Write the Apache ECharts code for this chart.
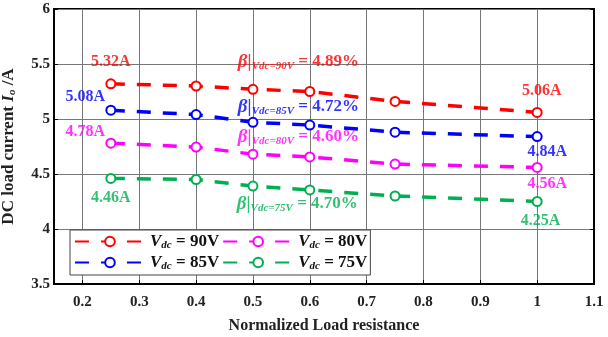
<!DOCTYPE html>
<html><head><meta charset="utf-8">
<script src="https://cdn.jsdelivr.net/npm/echarts@6/dist/echarts.min.js"></script>
<style>html,body{margin:0;padding:0;background:#fff}#c{width:608px;height:337px}</style>
</head><body><div id="c"></div>
<script>
var xValues = [0.25, 0.4, 0.5, 0.6, 0.75, 1.0];
var vdc90 = [5.32, 5.30, 5.27, 5.25, 5.16, 5.06];
var vdc85 = [5.08, 5.04, 4.97, 4.945, 4.88, 4.84];
var vdc80 = [4.78, 4.745, 4.68, 4.655, 4.59, 4.56];
var vdc75 = [4.46, 4.45, 4.39, 4.355, 4.30, 4.25];
var xTicks = [0.2, 0.3, 0.4, 0.5, 0.6, 0.7, 0.8, 0.9, 1, 1.1];
var seriesNames = ['90V', '85V', '80V', '75V'];
var legendOrder = ['90V', '80V', '85V', '75V'];
var colors = ['#ff0000', '#0000ff', '#ff00ff', '#00b050'];
var betaTexts = ['4.89%', '4.72%', '4.60%', '4.70%'];
var betaPos = [[0.58, 5.52], [0.58, 5.11], [0.58, 4.84], [0.578, 4.23]];
var valueLabels = [
  [[0.25, 5.52, '5.32A'], [1.008, 5.26, '5.06A']],
  [[0.205, 5.20, '5.08A'], [1.018, 4.70, '4.84A']],
  [[0.205, 4.88, '4.78A'], [1.018, 4.41, '4.56A']],
  [[0.25, 4.28, '4.46A'], [1.006, 4.07, '4.25A']]
];
var allData = [vdc90, vdc85, vdc80, vdc75];
var FONT = 'Liberation Serif';

var series = [];
allData.forEach(function (vals, k) {
  var c = colors[k];
  series.push({
    name: seriesNames[k],
    type: 'line',
    data: xValues.map(function (x, i) { return [x, vals[i]]; }),
    symbol: 'emptyCircle',
    symbolSize: 9,
    showAllSymbol: true,
    lineStyle: { color: c, width: 3.5, type: [14, 12] },
    itemStyle: { color: c, borderColor: c, borderWidth: 4 },
    z: 3
  });
  var pts = valueLabels[k].map(function (v) {
    return { value: [v[0], v[1]], label: { formatter: v[2] } };
  });
  pts.push({
    value: betaPos[k],
    label: {
      formatter: '{b|β|}{s|Vdc=' + seriesNames[k] + '}{n| = ' + betaTexts[k] + '}',
      rich: {
        b: { fontFamily: FONT, fontStyle: 'italic', fontWeight: 'bold', fontSize: 19, color: c },
        s: { fontFamily: FONT, fontStyle: 'italic', fontWeight: 'bold', fontSize: 11, color: c, padding: [9, 0, 0, 0] },
        n: { fontFamily: FONT, fontWeight: 'bold', fontSize: 17, color: c }
      }
    }
  });
  series.push({
    name: 'lbl' + k,
    type: 'scatter',
    data: pts,
    symbolSize: 0,
    silent: true,
    label: { show: true, position: 'inside', color: c, fontFamily: FONT, fontWeight: 'bold', fontSize: 16 },
    z: 5
  });
});

var chart = echarts.init(document.getElementById('c'));
chart.setOption({
  animation: false,
  backgroundColor: '#fff',
  grid: { left: 54, right: 14, top: 9, bottom: 53, outerBoundsMode: 'none', containLabel: false, show: true, borderColor: '#000', borderWidth: 2, backgroundColor: 'transparent' },
  xAxis: {
    type: 'value', min: 0.15, max: 1.1,
    name: 'Normalized Load resistance', nameLocation: 'middle', nameGap: 34,
    nameTextStyle: { fontFamily: FONT, fontWeight: 'bold', fontSize: 16, color: '#222' },
    axisLine: { show: true, onZero: false, lineStyle: { color: '#000', width: 2 } },
    axisTick: { show: true, inside: true, length: 4, customValues: xTicks, lineStyle: { color: '#000' } },
    axisLabel: {
      customValues: xTicks,
      margin: 11, fontFamily: FONT, fontWeight: 'bold', fontSize: 15, color: '#222',
      formatter: function (v) { return String(Math.round(v * 10) / 10); }
    },
    splitLine: { show: true, lineStyle: { color: '#777', width: 1 } }
  },
  yAxis: [{
    type: 'value', min: 3.5, max: 6, interval: 0.5,
    name: 'DC load current {i|I}{s|o} /A', nameLocation: 'middle', nameGap: 36,
    nameTextStyle: { fontFamily: FONT, fontWeight: 'bold', fontSize: 17, color: '#222',
      rich: { i: { fontFamily: FONT, fontWeight: 'bold', fontStyle: 'italic', fontSize: 17, color: '#222' },
              s: { fontFamily: FONT, fontWeight: 'bold', fontStyle: 'italic', fontSize: 11, color: '#222', padding: [8, 0, 0, 0] } } },
    axisLine: { show: true, lineStyle: { color: '#000', width: 2 } },
    axisTick: { show: true, inside: true, length: 4, lineStyle: { color: '#000' } },
    axisLabel: { margin: 4, fontFamily: FONT, fontWeight: 'bold', fontSize: 15, color: '#222' },
    splitLine: { show: true, lineStyle: { color: '#777', width: 1 } }
  }, {
    type: 'value', min: 3.5, max: 6, interval: 0.5, position: 'right',
    axisLine: { show: true, lineStyle: { color: '#000', width: 2 } },
    axisTick: { show: true, inside: true, length: 4, lineStyle: { color: '#000' } },
    axisLabel: { show: false },
    splitLine: { show: false }
  }],
  legend: {
    data: legendOrder,
    left: 70, top: 230, width: 300,
    orient: 'horizontal',
    itemWidth: 70, itemHeight: 12, itemGap: 3,
    padding: [3, 3, 3, 4],
    borderColor: '#444', borderWidth: 1, backgroundColor: '#fff',
    formatter: function (n) { return '{i|V}{s|dc}{n| = ' + n + '}'; },
    textStyle: {
      rich: {
        i: { fontFamily: FONT, fontWeight: 'bold', fontStyle: 'italic', fontSize: 17, color: '#111' },
        s: { fontFamily: FONT, fontWeight: 'bold', fontStyle: 'italic', fontSize: 11, color: '#111', padding: [8, 0, 0, 0] },
        n: { fontFamily: FONT, fontWeight: 'bold', fontSize: 17, color: '#111' }
      }
    }
  },
  series: series
});
</script></body></html>
